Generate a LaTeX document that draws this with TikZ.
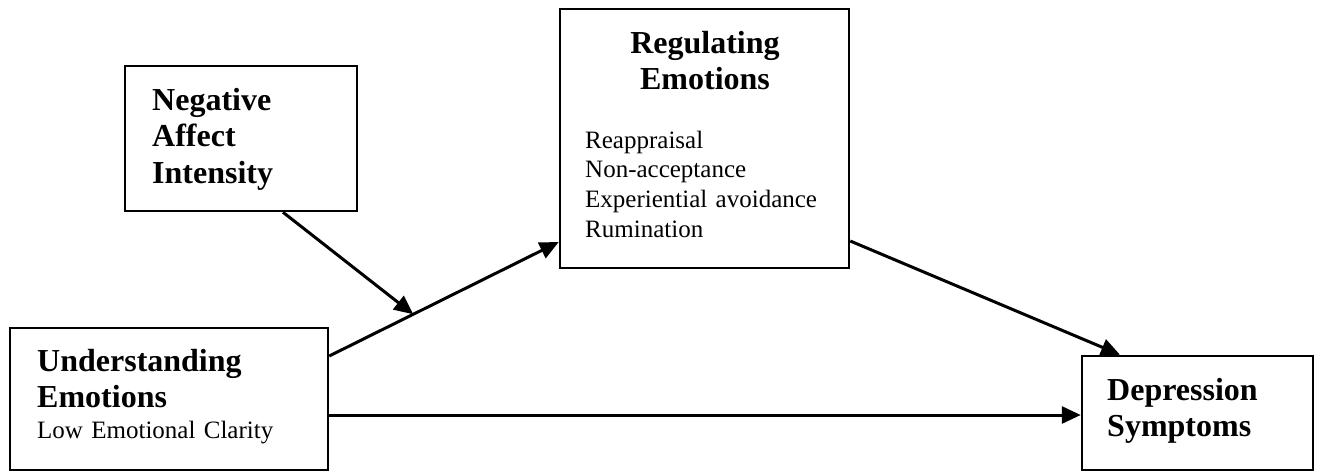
\documentclass[tikz,border=0pt]{standalone}
\usepackage{fontspec}
\setmainfont{Liberation Serif}
\usetikzlibrary{arrows.meta}
\begin{document}
\begin{tikzpicture}[x=1pt, y=-1pt,
        box/.style = {draw, line width=2.5pt, inner sep=0pt},
        head/.style = {inner sep=0pt, align=left, text width=260pt, font=\fontsize{32}{36.5}\selectfont\bfseries},
        body/.style = {inner sep=0pt, align=left, text width=280pt, font=\fontsize{25}{29.7}\selectfont},
        arr/.style = {line width=3pt, -{Triangle[length=19pt, width=17pt]}}]
        \useasboundingbox (0,0) rectangle (1320,472);
        \begin{scope}[every node/.style = box]
            \node[minimum width=232pt, minimum height=145pt] (nai) at (241,138.5) {};
            \node[minimum width=289pt, minimum height=259pt] (re) at (704.5,138.5) {};
            \node[minimum width=318pt, minimum height=142pt] (ue) at (169,399) {};
            \node[minimum width=231pt, minimum height=114pt] (ds) at (1197.5,413) {};
        \end{scope}
        \node[head, anchor=base west] (naitext) at (152,110) {Negative\\Affect\\Intensity};
        \node[head, anchor=base, align=center, text width=200pt] (retext) at (705,53) {Regulating\\Emotions};
        \node[body, anchor=base west] (relist) at (585,148) {Reappraisal\\Non-acceptance\\Experiential avoidance\\Rumination};
        \node[head, anchor=base west] (uetext) at (37,371) {Understanding\\Emotions};
        \node[body, anchor=base west] (uesub) at (37,438) {Low Emotional Clarity};
        \node[head, anchor=base west] (dstext) at (1107,400) {Depression\\Symptoms};
        \draw[arr] ([yshift=43pt]ue.east) -- ([yshift=-103.5pt]re.west)
            coordinate[pos=0.366] (m);
        \draw[arr] ([xshift=42pt]nai.south) -- (m);
        \draw[arr] ([yshift=-102.5pt]re.east) -- ([xshift=-77.5pt]ds.north);
        \draw[arr] ([yshift=-16pt]ue.east) -- ([yshift=-2pt]ds.west);
    \end{tikzpicture}
\end{document}
